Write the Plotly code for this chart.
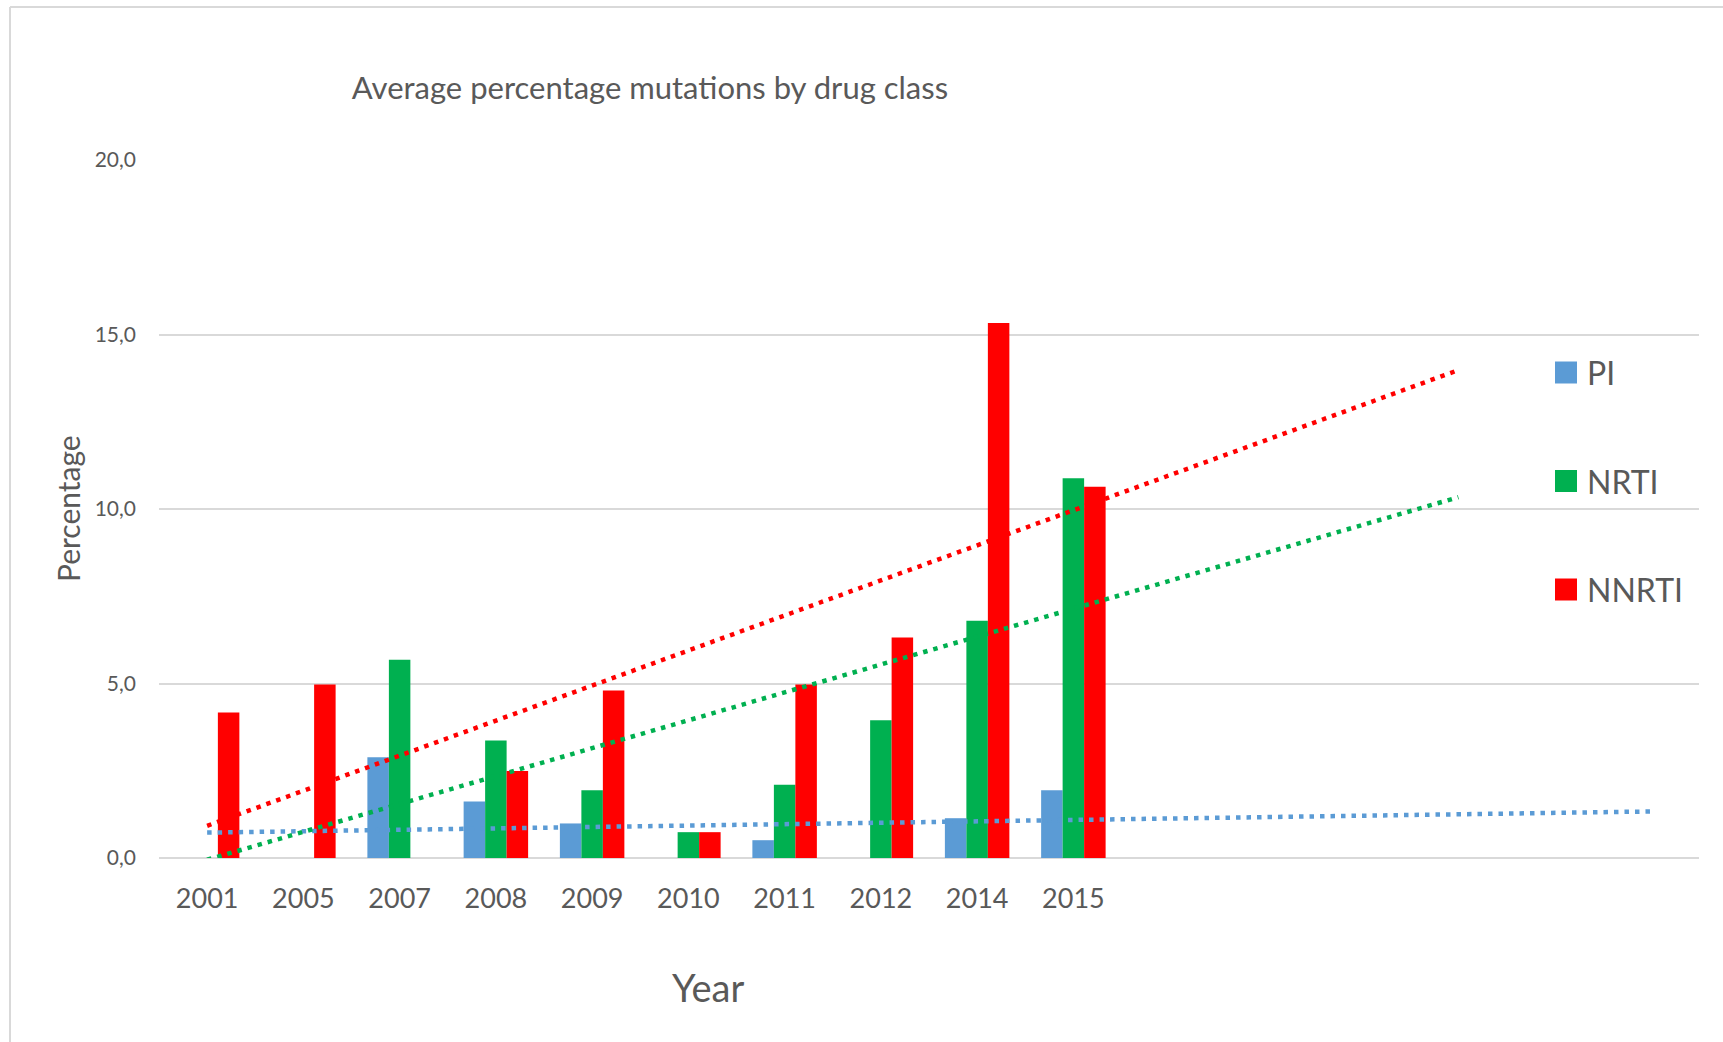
import numpy as np
import plotly.graph_objects as go

# ---- data -------------------------------------------------------------
years = ["2001", "2005", "2007", "2008", "2009", "2010", "2011", "2012", "2014", "2015"]
pi_values = [0, 0, 2.89, 1.62, 0.99, 0, 0.51, 0, 1.14, 1.94]
nrti_values = [0, 0, 5.68, 3.37, 1.94, 0.74, 2.10, 3.95, 6.80, 10.88]
nnrti_values = [4.17, 4.97, 0, 2.49, 4.80, 0.74, 4.97, 6.32, 15.33, 10.64]
class_names = ["PI", "NRTI", "NNRTI"]

y_ticks = [0, 5, 10, 15, 20]
y_tick_labels = ["0,0", "5,0", "10,0", "15,0", "20,0"]

# linear trendlines, extended forward by a number of periods
forecast_periods = [6, 4, 4]

# ---- styling ----------------------------------------------------------
colors = ["#5B9BD5", "#00B050", "#FF0000"]
FONT = "Lato"
TEXT = "#595959"
GRID = "#D9D9D9"

W, H = 1723, 1042
L, R, T, B = 159, 24, 160, 184
PW, PH = W - L - R, H - T - B
N_SLOTS = 16  # categories shown on the axis, including trend forecast room


def px_x(px):
    return (px - L) / PW


def px_y(py):
    return (H - B - py) / PH


fig = go.Figure()
idx = np.arange(len(years))
all_values = [pi_values, nrti_values, nnrti_values]

for name, vals, col in zip(class_names, all_values, colors):
    fig.add_trace(go.Bar(
        x=idx, y=vals, name=name, marker_color=col,
        marker_line_width=0, showlegend=False,
    ))

for name, vals, col, fwd in zip(class_names, all_values, colors, forecast_periods):
    slope, intercept = np.polyfit(idx, np.asarray(vals, dtype=float), 1)
    xs = np.array([0, len(years) - 1 + fwd], dtype=float)
    fig.add_trace(go.Scatter(
        x=xs, y=intercept + slope * xs, mode="lines",
        line=dict(color=col, width=4.5, dash="4.5px,6px"),
        showlegend=False, hoverinfo="skip",
    ))

shapes = [
    # chart-area frame (top and left edges)
    dict(type="line", xref="paper", yref="paper",
         x0=px_x(10), x1=px_x(W + 5), y0=px_y(7), y1=px_y(7),
         line=dict(color=GRID, width=2)),
    dict(type="line", xref="paper", yref="paper",
         x0=px_x(10), x1=px_x(10), y0=px_y(7), y1=px_y(H + 5),
         line=dict(color=GRID, width=2)),
]
annotations = []

# legend: square swatch plus label
legend_rows = [372.5, 481, 589.5]
for name, col, cy in zip(class_names, colors, legend_rows):
    shapes.append(dict(type="rect", xref="paper", yref="paper",
                       x0=px_x(1555), x1=px_x(1577),
                       y0=px_y(cy + 11), y1=px_y(cy - 11),
                       fillcolor=col, line=dict(width=0)))
    annotations.append(dict(text=name, xref="paper", yref="paper",
                            x=px_x(1585), y=px_y(cy), xanchor="left",
                            yanchor="middle", showarrow=False,
                            font=dict(family=FONT, size=32, color=TEXT)))

annotations.append(dict(text="Year", xref="paper", yref="paper",
                        x=px_x(708), y=px_y(987), xanchor="center",
                        yanchor="middle", showarrow=False,
                        font=dict(family=FONT, size=38, color=TEXT)))
annotations.append(dict(text="Percentage", xref="paper", yref="paper",
                        x=px_x(68), y=px_y(509), xanchor="center",
                        yanchor="middle", showarrow=False, textangle=-90,
                        font=dict(family=FONT, size=30, color=TEXT)))

fig.update_layout(
    width=W, height=H,
    margin=dict(l=L, r=R, t=T, b=B),
    paper_bgcolor="white", plot_bgcolor="white",
    barmode="group", bargap=0.33, bargroupgap=0,
    title=dict(text="Average percentage mutations by drug class",
               x=px_x(650), xref="paper", xanchor="center",
               y=1 - 88 / H, yanchor="middle",
               font=dict(family=FONT, size=31, color=TEXT)),
    shapes=shapes, annotations=annotations,
    showlegend=False,
)
fig.update_xaxes(
    range=[-0.5, N_SLOTS - 0.5], tickmode="array",
    tickvals=list(idx), ticktext=years,
    showgrid=False, zeroline=False, showline=False, ticks="",
    ticklabelstandoff=22,
    tickfont=dict(family=FONT, size=27, color=TEXT),
)
fig.update_yaxes(
    range=[0, 20], tickmode="array", tickvals=y_ticks, ticktext=y_tick_labels,
    showgrid=True, gridcolor=GRID, gridwidth=2,
    zeroline=True, zerolinecolor=GRID, zerolinewidth=2,
    showline=False, ticks="", ticklabelstandoff=22,
    tickfont=dict(family=FONT, size=21, color=TEXT),
)

fig.write_html("out.html")
